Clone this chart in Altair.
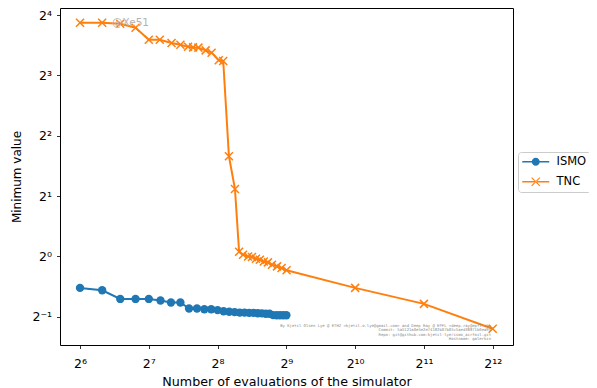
import altair as alt
import pandas as pd

# ---- data ----
ismo_x = [64, 80, 96, 112, 128, 144, 160, 176, 192, 208, 224, 240, 256, 272, 288,
          304, 320, 336, 352, 368, 384, 400, 416, 432, 448, 464, 480, 496, 512]
ismo_y = [0.697, 0.678, 0.614, 0.614, 0.614, 0.603, 0.589, 0.589, 0.550, 0.550,
          0.545, 0.545, 0.540, 0.533, 0.530, 0.528, 0.525, 0.525, 0.523, 0.523,
          0.521, 0.520, 0.518, 0.518, 0.510, 0.509, 0.509, 0.509, 0.509]

tnc_x = [64, 80, 96, 112, 128, 143, 161, 176, 190, 200, 211, 227, 241, 259, 271,
         287, 305, 318,
         331, 348, 362, 377, 392, 408, 425, 443, 466, 488, 513,
         1024, 2048, 4096]
tnc_y = [14.64, 14.64, 14.47, 13.82, 12.05, 12.05, 11.59, 11.38, 11.10, 11.03, 11.0,
         10.66, 10.38, 9.51, 9.43,
         3.16, 2.17, 1.055,
         1.02, 1.0, 0.993, 0.974, 0.963, 0.944, 0.934, 0.91, 0.892, 0.876, 0.854,
         0.697, 0.58, 0.436]

series = ["ISMO", "TNC"]
colors = ["#1f77b4", "#ff7f0e"]

x_ticks = [64, 128, 256, 512, 1024, 2048, 4096]
y_ticks = [0.5, 1, 2, 4, 8, 16]

watermark = "@Xe51"
credits = [
    "By Kjetil Olsen Lye @ ETHZ <kjetil.o.lye@gmail.com> and Deep Ray @ EPFL <deep.ray@epfl.ch>",
    "Commit: 5a5121a0e5e2e74182b07b05c5aed38871b0ea9f",
    "Repo: git@github.com:kjetil-lye/ismo_airfoil.git",
    "Hostname: galerkin",
]

df = pd.concat([
    pd.DataFrame({"n": ismo_x, "v": ismo_y, "s": "ISMO"}),
    pd.DataFrame({"n": tnc_x, "v": tnc_y, "s": "TNC"}),
], ignore_index=True)

SUP = {"-": "⁻", "0": "⁰", "1": "¹", "2": "²", "3": "³", "4": "⁴",
       "5": "⁵", "6": "⁶", "7": "⁷", "8": "⁸", "9": "⁹"}


def pow_label_expr(exps):
    e = "round(log(datum.value)/LN2)"
    parts = []
    for k in exps:
        s = "2" + "".join(SUP[c] for c in str(k))
        parts.append(f"{e} == {k} ? '{s}' : ")
    return "".join(parts) + "''"


FONT = "DejaVu Sans"
x_dom = [2 ** 5.709, 2 ** 12.295]
y_dom = [2 ** -1.467, 2 ** 4.116]

xscale = alt.Scale(type="log", base=2, domain=x_dom, nice=False)
yscale = alt.Scale(type="log", base=2, domain=y_dom, nice=False)

xaxis = alt.Axis(values=x_ticks, labelExpr=pow_label_expr(range(6, 13)),
                 title="Number of evaluations of the simulator",
                 titleFontSize=12.7, titleFontWeight="normal",
                 titleColor="#000", titlePadding=5,
                 labelFontSize=12.5, labelPadding=9, labelColor="#000")
yaxis = alt.Axis(values=y_ticks, labelExpr=pow_label_expr(range(-1, 5)),
                 title="Minimum value", titleFontSize=12,
                 titleFontWeight="normal", titleColor="#000",
                 titlePadding=8, labelFontSize=12.5, labelPadding=5,
                 labelColor="#000")

xenc = alt.X("n:Q", scale=xscale, axis=xaxis)
yenc = alt.Y("v:Q", scale=yscale, axis=yaxis)
cscale = alt.Scale(domain=series, range=colors)
cenc = alt.Color("s:N", scale=cscale, title=None)

base = alt.Chart(df)

# legend-only layer: points pushed far outside the clipped x range, so only the legend shows
LEG_ISMO = ("M-2.7,-0.16L2.7,-0.16L2.7,0.16L-2.7,0.16Z"
            "M0.8,0A0.8,0.8 0 1,1 -0.8,0A0.8,0.8 0 1,1 0.8,0Z")
LEG_TNC = ("M-2.7,-0.16L2.7,-0.16L2.7,0.16L-2.7,0.16Z"
           "M-0.9,-0.75L-0.75,-0.9L0.9,0.75L0.75,0.9Z"
           "M-0.9,0.75L-0.75,0.9L0.9,-0.75L0.75,-0.9Z")
legend_layer = base.transform_calculate(far="datum.n * 1000000").mark_point(
    filled=True, size=100, clip=True, opacity=1, strokeWidth=0).encode(
    x=alt.X("far:Q", scale=xscale, axis=xaxis),
    y=yenc,
    color=cenc,
    shape=alt.Shape("s:N", scale=alt.Scale(domain=series, range=[LEG_ISMO, LEG_TNC]),
                    title=None),
)

lines = base.mark_line(strokeWidth=2, clip=True).encode(x=xenc, y=yenc, color=cenc)

pts_ismo = base.transform_filter(alt.datum.s == "ISMO").mark_point(
    shape="circle", filled=True, size=70, opacity=1).encode(
    x=xenc, y=yenc, color=cenc)

XPATH = "M-1,-1L1,1M-1,1L1,-1"
pts_tnc = base.transform_filter(alt.datum.s == "TNC").mark_point(
    shape=XPATH, filled=False, size=64, strokeWidth=1.5, opacity=1).encode(
    x=xenc, y=yenc, color=cenc)

wm = alt.Chart(pd.DataFrame({"t": [watermark]})).mark_text(
    align="left", baseline="middle", fontSize=10.5, color="#b3b3b3", font=FONT
).encode(text="t:N", x=alt.value(52), y=alt.value(15))

cred = alt.Chart(pd.DataFrame({"t": [credits]})).mark_text(
    align="right", baseline="top", fontSize=3.9, lineHeight=4.3, color="#888888",
    font="DejaVu Sans Mono"
).encode(text="t", x=alt.value(431), y=alt.value(316))

chart = alt.layer(legend_layer, lines, pts_ismo, pts_tnc, wm, cred).properties(
    width=453, height=337,
    autosize=alt.AutoSizeParams(type="none"),
    padding={"left": 52, "top": 0, "right": 76, "bottom": 42},
).configure_view(stroke="#000", strokeWidth=1).configure_axis(
    grid=False, domain=False, tickColor="#000", tickSize=3.5, tickWidth=0.8,
    labelFont=FONT, titleFont=FONT,
).configure_legend(
    orient="none", legendX=458, legendY=144, padding=4,
    strokeColor="#cccccc", fillColor="#ffffff", cornerRadius=3,
    labelFont=FONT, labelFontSize=11.5, labelColor="#000",
    symbolSize=100, symbolOpacity=1, symbolStrokeWidth=0,
    symbolOffset=8, labelOffset=15, rowPadding=7,
)

chart.save("out.html", embed_options={"renderer": "svg", "actions": False})
